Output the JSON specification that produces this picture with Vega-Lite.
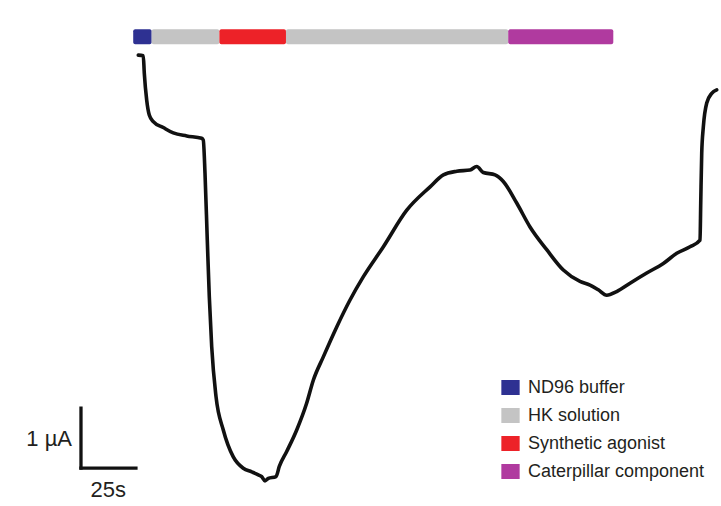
{
  "$schema": "https://vega.github.io/schema/vega-lite/v6.json",
  "width": 721,
  "height": 506,
  "autosize": {"type": "fit", "contains": "padding"},
  "padding": 0,
  "background": "white",
  "config": {"view": {"stroke": null}},
  "datasets": {
    "segments": [
      {"solution": "ND96 buffer", "start": -3.4, "end": 5.0},
      {"solution": "HK solution", "start": 5.0, "end": 35.8},
      {"solution": "Synthetic agonist", "start": 35.8, "end": 66.1},
      {"solution": "HK solution", "start": 66.1, "end": 167.2},
      {"solution": "Caterpillar component", "start": 167.2, "end": 215.0}
    ],
    "trace": [
      {"i": 1, "t": -1.09, "current": 0.03},
      {"i": 2, "t": 1.18, "current": 0.02},
      {"i": 3, "t": 1.64, "current": -0.27},
      {"i": 4, "t": 2.73, "current": -0.72},
      {"i": 5, "t": 3.91, "current": -0.97},
      {"i": 6, "t": 5.73, "current": -1.08},
      {"i": 7, "t": 10.28, "current": -1.18},
      {"i": 8, "t": 14.83, "current": -1.27},
      {"i": 9, "t": 20.93, "current": -1.32},
      {"i": 10, "t": 27.76, "current": -1.36},
      {"i": 11, "t": 28.48, "current": -1.39},
      {"i": 12, "t": 29.26, "current": -1.94},
      {"i": 13, "t": 30.3, "current": -3.06},
      {"i": 14, "t": 31.21, "current": -4.0},
      {"i": 15, "t": 32.31, "current": -4.84},
      {"i": 16, "t": 34.26, "current": -5.67},
      {"i": 17, "t": 37.58, "current": -6.23},
      {"i": 18, "t": 42.13, "current": -6.68},
      {"i": 19, "t": 46.68, "current": -6.87},
      {"i": 20, "t": 50.51, "current": -6.93},
      {"i": 21, "t": 53.51, "current": -6.98},
      {"i": 22, "t": 55.06, "current": -7.01},
      {"i": 23, "t": 56.56, "current": -7.08},
      {"i": 24, "t": 58.06, "current": -7.04},
      {"i": 25, "t": 61.56, "current": -7.01},
      {"i": 26, "t": 63.06, "current": -6.84},
      {"i": 27, "t": 66.43, "current": -6.59},
      {"i": 28, "t": 70.98, "current": -6.23},
      {"i": 29, "t": 75.53, "current": -5.78},
      {"i": 30, "t": 78.53, "current": -5.4},
      {"i": 31, "t": 83.08, "current": -5.01},
      {"i": 32, "t": 89.18, "current": -4.51},
      {"i": 33, "t": 95.23, "current": -4.06},
      {"i": 34, "t": 101.31, "current": -3.67},
      {"i": 35, "t": 110.41, "current": -3.17},
      {"i": 36, "t": 121.05, "current": -2.56},
      {"i": 37, "t": 131.65, "current": -2.17},
      {"i": 38, "t": 137.7, "current": -1.97},
      {"i": 39, "t": 143.8, "current": -1.91},
      {"i": 40, "t": 149.82, "current": -1.89},
      {"i": 41, "t": 152.87, "current": -1.83},
      {"i": 42, "t": 155.87, "current": -1.93},
      {"i": 43, "t": 161.2, "current": -1.97},
      {"i": 44, "t": 164.97, "current": -2.08},
      {"i": 45, "t": 171.07, "current": -2.44},
      {"i": 46, "t": 177.12, "current": -2.84},
      {"i": 47, "t": 184.72, "current": -3.22},
      {"i": 48, "t": 192.27, "current": -3.56},
      {"i": 49, "t": 199.86, "current": -3.75},
      {"i": 50, "t": 204.41, "current": -3.81},
      {"i": 51, "t": 208.19, "current": -3.89},
      {"i": 52, "t": 212.01, "current": -3.98},
      {"i": 53, "t": 216.56, "current": -3.92},
      {"i": 54, "t": 222.61, "current": -3.78},
      {"i": 55, "t": 230.21, "current": -3.61},
      {"i": 56, "t": 237.76, "current": -3.45},
      {"i": 57, "t": 243.86, "current": -3.28},
      {"i": 58, "t": 249.91, "current": -3.17},
      {"i": 59, "t": 254.46, "current": -3.06},
      {"i": 60, "t": 254.78, "current": -2.44},
      {"i": 61, "t": 255.23, "current": -1.61},
      {"i": 62, "t": 255.96, "current": -1.17},
      {"i": 63, "t": 257.51, "current": -0.77},
      {"i": 64, "t": 259.78, "current": -0.61},
      {"i": 65, "t": 262.06, "current": -0.55}
    ]
  },
  "layer": [
    {
      "data": {"name": "segments"},
      "mark": {"type": "rect", "cornerRadius": 2},
      "encoding": {
        "x": {"field": "start", "type": "quantitative", "scale": {"domain": [-64, 264], "nice": false, "zero": false}, "axis": null},
        "x2": {"field": "end"},
        "y": {"datum": 0.46, "type": "quantitative", "scale": {"domain": [-7.5, 0.95], "nice": false, "zero": false}, "axis": null},
        "y2": {"datum": 0.21},
        "color": {
          "field": "solution",
          "type": "nominal",
          "scale": {
            "domain": ["ND96 buffer", "HK solution", "Synthetic agonist", "Caterpillar component"],
            "range": ["#2e3192", "#c4c4c4", "#ed2228", "#b03a9f"]
          },
          "legend": {
            "title": null,
            "orient": "none",
            "legendX": 501,
            "legendY": 378,
            "symbolType": "M-1,-0.82H1V0.82H-1Z",
            "symbolSize": 335,
            "symbolStrokeWidth": 0,
            "symbolOpacity": 1,
            "labelFont": "Liberation Sans",
            "labelFontSize": 18,
            "labelColor": "#231f20",
            "labelOffset": 8,
            "rowPadding": 9,
            "labelLimit": 400,
            "padding": 0
          }
        }
      }
    },
    {
      "data": {"name": "trace"},
      "mark": {"type": "line", "color": "#111111", "strokeWidth": 3.6, "strokeJoin": "round", "strokeCap": "round", "interpolate": "monotone"},
      "encoding": {
        "x": {"field": "t", "type": "quantitative"},
        "y": {"field": "current", "type": "quantitative"},
        "order": {"field": "i", "type": "quantitative"}
      }
    },
    {
      "data": {"values": [{}]},
      "mark": {"type": "rule", "color": "#111111", "strokeWidth": 3.3, "strokeCap": "square"},
      "encoding": {
        "x": {"datum": -27.16, "type": "quantitative"},
        "y": {"datum": -6.866, "type": "quantitative"},
        "y2": {"datum": -5.866}
      }
    },
    {
      "data": {"values": [{}]},
      "mark": {"type": "rule", "color": "#111111", "strokeWidth": 3.3, "strokeCap": "square"},
      "encoding": {
        "x": {"datum": -27.16, "type": "quantitative"},
        "x2": {"datum": -2.16},
        "y": {"datum": -6.866, "type": "quantitative"}
      }
    },
    {
      "data": {"values": [{}]},
      "mark": {"type": "text", "text": "1 µA", "align": "right", "baseline": "alphabetic", "dx": -9, "font": "Liberation Sans", "fontSize": 22, "color": "#231f20"},
      "encoding": {
        "x": {"datum": -27.16, "type": "quantitative"},
        "y": {"datum": -6.498, "type": "quantitative"}
      }
    },
    {
      "data": {"values": [{}]},
      "mark": {"type": "text", "text": "25s", "align": "center", "baseline": "alphabetic", "font": "Liberation Sans", "fontSize": 22, "color": "#231f20"},
      "encoding": {
        "x": {"datum": -14.74, "type": "quantitative"},
        "y": {"datum": -7.345, "type": "quantitative"}
      }
    }
  ]
}
